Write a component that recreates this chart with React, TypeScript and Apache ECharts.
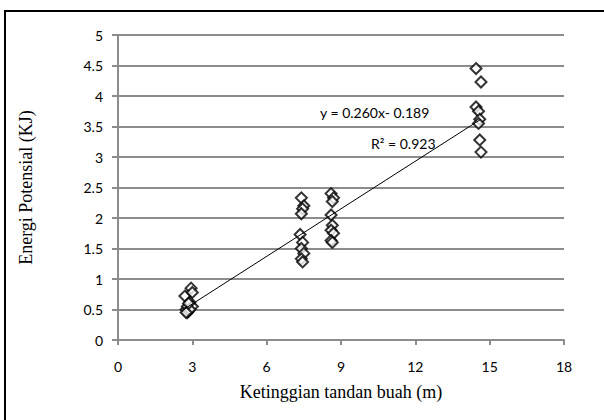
import React, { useEffect, useRef } from "react";
import * as echarts from "echarts";

const xTicks = [0, 3, 6, 9, 12, 15, 18];
const yTicks = [0, 0.5, 1, 1.5, 2, 2.5, 3, 3.5, 4, 4.5, 5];

const heightsM = [
  2.7, 2.75, 2.8, 2.8, 2.85, 2.9, 2.95, 3.0, 3.0, 2.9, 2.85, 2.75,
  7.4, 7.5, 7.45, 7.4, 7.35, 7.45, 7.4, 7.5, 7.4, 7.45,
  8.6, 8.7, 8.65, 8.6, 8.65, 8.6, 8.7, 8.6, 8.65,
  14.45, 14.65, 14.45, 14.55, 14.6, 14.55, 14.6, 14.65,
];
const energyKJ = [
  0.72, 0.5, 0.45, 0.55, 0.48, 0.62, 0.85, 0.78, 0.55, 0.5, 0.6, 0.45,
  2.33, 2.2, 2.15, 2.07, 1.73, 1.6, 1.5, 1.42, 1.33, 1.28,
  2.4, 2.33, 2.27, 2.05, 1.88, 1.8, 1.75, 1.63, 1.6,
  4.45, 4.23, 3.82, 3.75, 3.62, 3.55, 3.28, 3.08,
];
const slope = 0.26;
const intercept = -0.189;
const eqLabel = "y = 0.260x- 0.189";
const r2Label = "R² = 0.923";

export default function App() {
  const ref = useRef<HTMLDivElement>(null);
  useEffect(() => {
    const chart = echarts.init(ref.current!, null, { renderer: "svg" });
    const pts = heightsM.map((x, i) => [x, energyKJ[i]]);
    const xmin = Math.min(...heightsM);
    const xmax = Math.max(...heightsM);
    const trend = [
      [xmin, slope * xmin + intercept],
      [xmax, slope * xmax + intercept],
    ];
    const grey = "#8c8c8c";
    const tickFont = "Lato";
    chart.setOption({
      animation: false,
      backgroundColor: "#fff",
      grid: { left: 118, right: 40, top: 35, bottom: 80 },
      xAxis: {
        type: "value",
        min: 0,
        max: 18,
        interval: 3,
        name: "Ketinggian tandan buah (m)",
        nameLocation: "middle",
        nameGap: 43,
        nameTextStyle: { fontFamily: "Liberation Serif", fontSize: 18, color: "#000" },
        axisLine: { show: true, onZero: false, lineStyle: { color: grey, width: 2 } },
        axisTick: { show: true, length: 5, lineStyle: { color: grey, width: 2 } },
        axisLabel: {
          margin: 19,
          fontFamily: tickFont,
          fontSize: 14,
          color: "#000",
          formatter: (v: number) => (xTicks.includes(v) ? String(v) : ""),
        },
        splitLine: { show: false },
      },
      yAxis: {
        type: "value",
        min: 0,
        max: 5,
        interval: 0.5,
        name: "Energi Potensial (KJ)",
        nameLocation: "middle",
        nameGap: 83,
        nameTextStyle: { fontFamily: "Liberation Serif", fontSize: 18, color: "#000" },
        axisLine: { show: true, lineStyle: { color: grey, width: 2 } },
        axisTick: { show: true, length: 6, lineStyle: { color: grey, width: 2 } },
        axisLabel: {
          margin: 15,
          fontFamily: tickFont,
          fontSize: 14,
          color: "#000",
          formatter: (v: number) => (yTicks.includes(v) ? String(v) : ""),
        },
        splitLine: { show: true, lineStyle: { color: grey, width: 2 } },
      },
      series: [
        {
          type: "scatter",
          data: pts,
          symbol: "diamond",
          symbolSize: [11, 11],
          itemStyle: { color: "#fff", borderColor: "#000", borderWidth: 2 },
          z: 3,
        },
        {
          type: "line",
          data: trend,
          symbol: "none",
          lineStyle: { color: "#000", width: 1 },
          z: 4,
        },
      ],
      graphic: [
        {
          type: "rect",
          shape: { x: 5, y: 11, width: 700, height: 500 },
          style: { fill: "none", stroke: "#000", lineWidth: 2 },
          silent: true,
        },
        {
          type: "text",
          x: 320,
          y: 112,
          style: { text: eqLabel, fontFamily: tickFont, fontSize: 14, fill: "#000", verticalAlign: "middle" },
        },
        {
          type: "text",
          x: 371,
          y: 143,
          style: { text: r2Label, fontFamily: tickFont, fontSize: 14, fill: "#000", verticalAlign: "middle" },
        },
      ],
    });
    return () => chart.dispose();
  }, []);
  return (
    <div
      ref={ref}
      style={{ position: "fixed", left: 0, top: 0, width: 604, height: 420 }}
    />
  );
}
